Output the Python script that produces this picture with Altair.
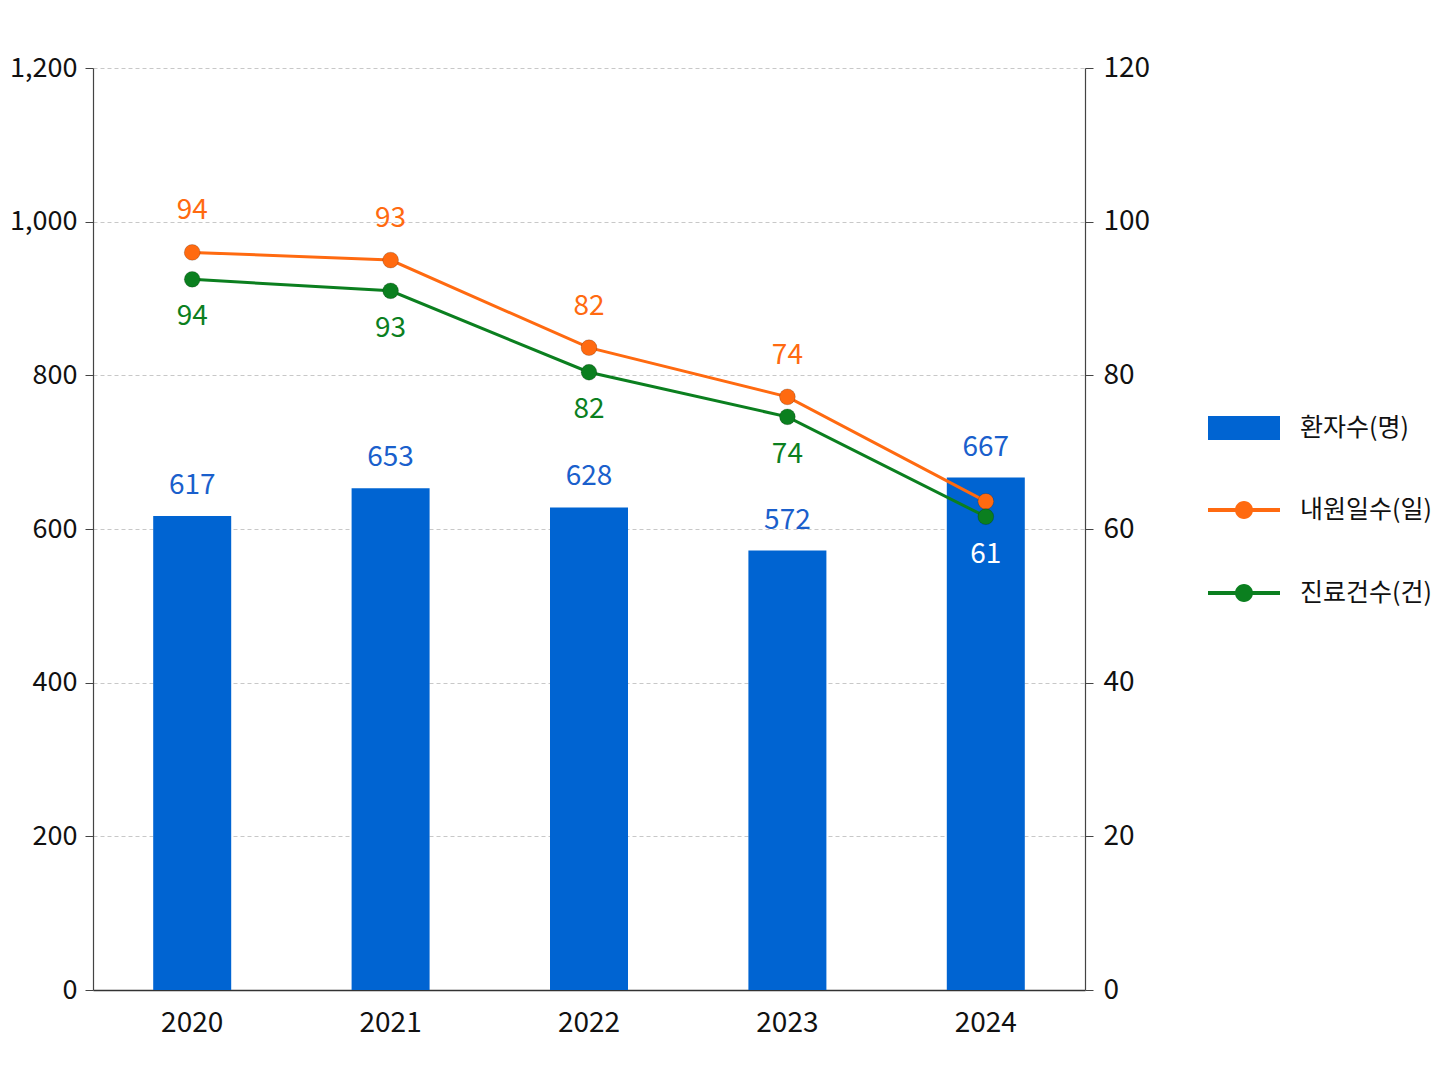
import altair as alt
import pandas as pd

years = ["2020", "2021", "2022", "2023", "2024"]
patients = [617, 653, 628, 572, 667]
patient_labels = ["617", "653", "628", "572", "667"]
visit_days = [96.0, 95.0, 83.6, 77.2, 63.6]
visit_labels = ["94", "93", "82", "74", ""]
claims = [92.5, 91.0, 80.4, 74.6, 61.6]
claim_labels = ["94", "93", "82", "74", "61"]
series_names = ["환자수(명)", "내원일수(일)", "진료건수(건)"]
colors = ["#0064D2", "#FF6A10", "#0B7F1F"]
left_ticks = [0, 200, 400, 600, 800, 1000, 1200]
right_ticks = [0, 20, 40, 60, 80, 100, 120]

FONT = "'Noto Sans CJK KR', sans-serif"

bar_df = pd.DataFrame({"year": years, "value": patients, "label": patient_labels,
                       "series": [series_names[0]] * len(years)})
line_df = pd.concat([
    pd.DataFrame({"year": years, "value": visit_days, "label": visit_labels,
                  "series": [series_names[1]] * len(years)}),
    pd.DataFrame({"year": years, "value": claims, "label": claim_labels,
                  "series": [series_names[2]] * len(years)}),
], ignore_index=True)

x_enc = alt.X("year:N", title=None, sort=years,
              axis=alt.Axis(labelAngle=0, ticks=False, labelPadding=19,
                            domainColor="#333", domainWidth=1.5))

bar = alt.Chart(bar_df).mark_bar(size=78).encode(
    x=x_enc,
    y=alt.Y("value:Q", title=None,
            scale=alt.Scale(domain=[0, 1200], nice=False),
            axis=alt.Axis(values=left_ticks, format=",.0f", grid=True,
                          gridDash=[4, 3], gridColor="#c8c8c8",
                          tickSize=8, labelPadding=8, labelFontSize=27)),
    fill=alt.Fill("series:N",
                  scale=alt.Scale(domain=[series_names[0]], range=[colors[0]]),
                  legend=alt.Legend(title=None, orient="none", legendX=1115, legendY=324,
                                    symbolType="M-1,-0.333H1V0.333H-1Z",
                                    symbolSize=5184, labelFontSize=25,
                                    labelColor="#111", labelOffset=20,
                                    symbolStrokeWidth=0)),
)

bar_text = alt.Chart(bar_df).mark_text(baseline="middle", dy=-30, fontSize=28,
                                       color="#1a5fcc").encode(
    x=alt.X("year:N", sort=years),
    y=alt.Y("value:Q", scale=alt.Scale(domain=[0, 1200], nice=False)),
    text="label:N",
)

color_scale = alt.Scale(domain=series_names[1:], range=colors[1:])

lines = alt.Chart(line_df).mark_line(strokeWidth=3).encode(
    x=alt.X("year:N", sort=years),
    y=alt.Y("value:Q", title=None,
            scale=alt.Scale(domain=[0, 120], nice=False),
            axis=alt.Axis(values=right_ticks, orient="right", grid=False,
                          tickSize=8, labelPadding=10)),
    color=alt.Color("series:N", scale=color_scale,
                    legend=alt.Legend(title=None, orient="none", legendX=1115, legendY=406,
                                      symbolType="M-1,-0.055H1V0.055H-1Z M-0.25,0A0.25,0.25 0 1,1 0.25,0A0.25,0.25 0 1,1 -0.25,0Z",
                                      symbolSize=5184, labelFontSize=25,
                                      labelColor="#111", labelOffset=20,
                                      rowPadding=34, symbolStrokeWidth=0)),
    detail="series:N",
)

points = alt.Chart(line_df).mark_circle(size=250, opacity=1, stroke="#00000030",
                                        strokeWidth=1).encode(
    x=alt.X("year:N", sort=years),
    y=alt.Y("value:Q", scale=alt.Scale(domain=[0, 120], nice=False)),
    color=alt.Color("series:N", scale=color_scale),
)

orange_text = alt.Chart(line_df).transform_filter(
    alt.datum.series == series_names[1]
).mark_text(baseline="middle", dy=-41, fontSize=28, color=colors[1]).encode(
    x=alt.X("year:N", sort=years),
    y=alt.Y("value:Q", scale=alt.Scale(domain=[0, 120], nice=False)),
    text="label:N",
)

green_text = alt.Chart(line_df).transform_filter(
    alt.datum.series == series_names[2]
).mark_text(baseline="middle", dy=38, fontSize=28).encode(
    x=alt.X("year:N", sort=years),
    y=alt.Y("value:Q", scale=alt.Scale(domain=[0, 120], nice=False)),
    text="label:N",
    color=alt.condition(alt.datum.year == years[-1], alt.value("#ffffff"), alt.value(colors[2])),
)

left = alt.layer(bar, bar_text)
right = alt.layer(lines, points, orange_text, green_text)

chart = alt.layer(left, right).resolve_scale(y="independent").properties(
    width=992, height=922,
    padding={"left": 85, "top": 60, "right": 355, "bottom": 80},
    autosize=alt.AutoSizeParams(type="none"),
).configure(font=FONT).configure_view(stroke=None).configure_axis(
    labelFontSize=28, labelColor="#111", domainColor="#444", tickColor="#444",
    domainWidth=1.2, labelFont=FONT,
).configure_legend(labelFont=FONT)

chart.save("out.html", embed_options={"renderer": "svg", "actions": False})
